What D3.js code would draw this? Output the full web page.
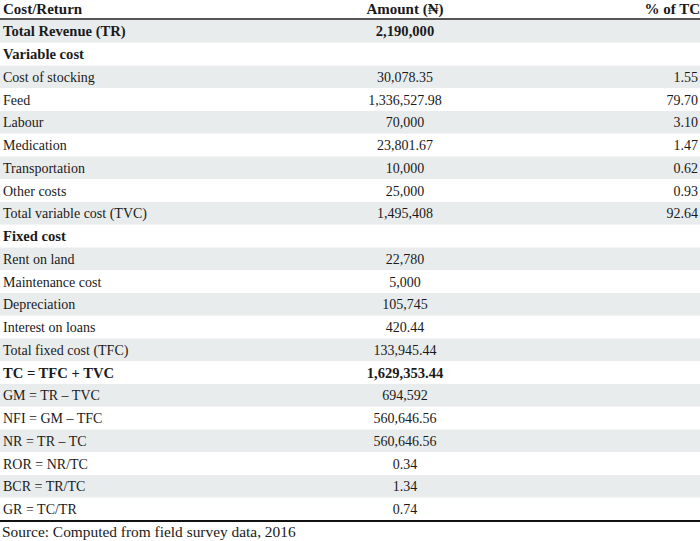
<!DOCTYPE html>
<html><head><meta charset="utf-8">
<script src="https://cdn.jsdelivr.net/npm/d3@7"></script>
<style>body{margin:0;background:#fff}svg{display:block}</style>
</head><body><svg id="c" width="700" height="541"></svg>
<script>
const headers = ["Cost/Return", "Amount (\u20A6)", "% of TC"];
const items = ["Total Revenue (TR)","Variable cost","Cost of stocking","Feed","Labour","Medication","Transportation","Other costs","Total variable cost (TVC)","Fixed cost","Rent on land","Maintenance cost","Depreciation","Interest on loans","Total fixed cost (TFC)","TC = TFC + TVC","GM = TR \u2013 TVC","NFI = GM \u2013 TFC","NR = TR \u2013 TC","ROR = NR/TC","BCR = TR/TC","GR = TC/TR"];
const amounts = ["2,190,000","","30,078.35","1,336,527.98","70,000","23,801.67","10,000","25,000","1,495,408","","22,780","5,000","105,745","420.44","133,945.44","1,629,353.44","694,592","560,646.56","560,646.56","0.34","1.34","0.74"];
const percents = ["","","1.55","79.70","3.10","1.47","0.62","0.93","92.64","","","","","","","","","","","","",""];
const boldRows = ["Total Revenue (TR)","Variable cost","Fixed cost","TC = TFC + TVC"];
const source = "Source: Computed from field survey data, 2016";

const svg = d3.select("#c");
const font = "'Liberation Serif', 'DejaVu Serif', serif";
const y = d3.scaleBand().domain(d3.range(items.length)).range([20, 520.5]).padding(0);
const W = 700;
const isBold = d => boldRows.includes(d);

svg.selectAll("rect.row").data(items).join("rect")
  .attr("x", 0).attr("width", W)
  .attr("y", (d,i)=>y(i)).attr("height", y.bandwidth())
  .attr("fill", (d,i)=> i%2===0 ? "#e9ecec" : "#fff");

const hdr = svg.append("g").attr("font-family",font).attr("font-size",15).attr("font-weight","bold").attr("fill","#1a1a1a");
hdr.append("text").attr("x",3).attr("y",14).text(headers[0]);
hdr.append("text").attr("x",405).attr("y",14).attr("text-anchor","middle").text(headers[1]);
hdr.append("text").attr("x",700).attr("y",14).attr("text-anchor","end").text(headers[2]);

svg.append("line").attr("x1",0).attr("x2",W).attr("y1",19).attr("y2",19).attr("stroke","#555").attr("stroke-width",2.2);

const rows = svg.selectAll("g.r").data(items).join("g")
  .attr("font-family",font).attr("fill","#1a1a1a")
  .attr("transform",(d,i)=>`translate(0,${y(i)+y.bandwidth()/2+5})`);
rows.append("text").attr("x",3).text(d=>d)
  .attr("font-weight",d=>isBold(d)?"bold":"normal").attr("font-size",d=>isBold(d)?14.6:14);
rows.append("text").attr("x",405).attr("text-anchor","middle").text((d,i)=>amounts[i])
  .attr("font-weight",d=>isBold(d)?"bold":"normal").attr("font-size",d=>isBold(d)?14.6:14);
rows.append("text").attr("x",698).attr("text-anchor","end").attr("font-size",14).text((d,i)=>percents[i]);

svg.append("line").attr("x1",0).attr("x2",W).attr("y1",521).attr("y2",521).attr("stroke","#111").attr("stroke-width",2);
svg.append("text").attr("x",2).attr("y",537).attr("font-family",font).attr("font-size",15.4).attr("fill","#1a1a1a").text(source);
</script></body></html>
